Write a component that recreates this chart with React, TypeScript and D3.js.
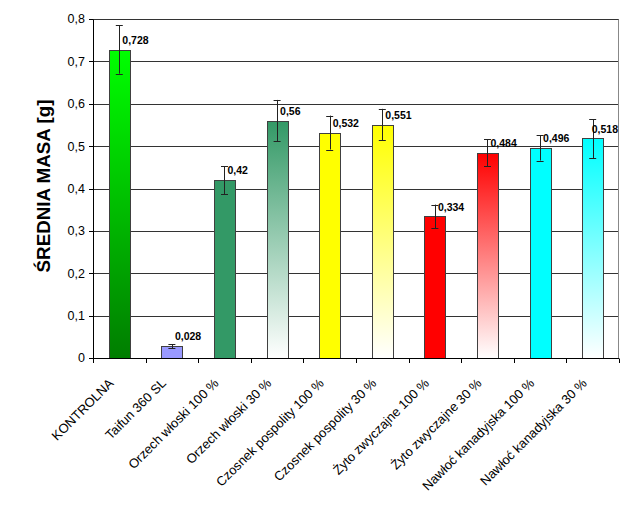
import * as d3 from "d3";

const categories = [
  "KONTROLNA",
  "Taifun 360 SL",
  "Orzech włoski 100 %",
  "Orzech włoski 30 %",
  "Czosnek pospolity 100 %",
  "Czosnek pospolity 30 %",
  "Żyto zwyczajne 100 %",
  "Żyto zwyczajne 30 %",
  "Nawłoć kanadyjska 100 %",
  "Nawłoć kanadyjska 30 %",
];
const means = [0.728, 0.028, 0.42, 0.56, 0.532, 0.551, 0.334, 0.484, 0.496, 0.518];
const errors = [0.057, 0.005, 0.033, 0.049, 0.04, 0.037, 0.028, 0.032, 0.03, 0.046];
const valueLabels = ["0,728", "0,028", "0,42", "0,56", "0,532", "0,551", "0,334", "0,484", "0,496", "0,518"];
const yTicks = [0, 0.1, 0.2, 0.3, 0.4, 0.5, 0.6, 0.7, 0.8];

// fill: [top colour, bottom colour]
const fills: [string, string][] = [
  ["#00ff00", "#007d00"],
  ["#9999ff", "#9999ff"],
  ["#339966", "#339966"],
  ["#339966", "#ffffff"],
  ["#ffff00", "#ffff00"],
  ["#ffff00", "#ffffff"],
  ["#ff0000", "#ff0000"],
  ["#ff0000", "#ffffff"],
  ["#00ffff", "#00ffff"],
  ["#00ffff", "#ffffff"],
];

const W = 620;
const H = 508;
const left = 93;
const right = 619;
const top = 19;
const bottom = 358;
const font = "Arial, 'Liberation Sans', sans-serif";

export default function App() {
  const x = d3.scaleBand<string>().domain(categories).range([left, right]).paddingInner(0.6).paddingOuter(0.3);
  const y = d3.scaleLinear().domain([0, 0.8]).range([bottom, top]);
  const fmt = (v: number) => d3.format(".1f")(v).replace(".", ",");
  const step = x.step();
  const crisp = (v: number) => Math.round(v) + 0.5;
  const labelSize = 10.5;

  return (
    <svg
      width={W}
      height={H}
      style={{ position: "absolute", left: 0, top: 0, background: "#fff" }}
      fontFamily={font}
    >
      <defs>
        {fills.map((f, i) => (
          <linearGradient key={i} id={`g${i}`} x1="0" y1="0" x2="0" y2="1">
            <stop offset="0" stopColor={f[0]} />
            <stop offset="1" stopColor={f[1]} />
          </linearGradient>
        ))}
      </defs>
      <rect x={0} y={0} width={W} height={H} fill="#fff" />

      {/* gridlines */}
      {yTicks.map((t) => (
        <line key={t} x1={left} x2={right} y1={crisp(y(t))} y2={crisp(y(t))} stroke="#333" strokeWidth={1} />
      ))}
      <line x1={crisp(right - 1)} x2={crisp(right - 1)} y1={crisp(top)} y2={crisp(bottom)} stroke="#888" />

      {/* y axis */}
      <line x1={crisp(left)} x2={crisp(left)} y1={crisp(top)} y2={crisp(bottom)} stroke="#000" />
      {yTicks.map((t) => (
        <g key={t}>
          <line x1={left - 4} x2={left} y1={crisp(y(t))} y2={crisp(y(t))} stroke="#000" />
          <text x={85} y={y(t)} dy="0.35em" textAnchor="end" fontSize={12.5} fill="#000">
            {t === 0 ? "0" : fmt(t)}
          </text>
        </g>
      ))}

      {/* x axis ticks */}
      {d3.range(categories.length + 1).map((i) => (
        <line
          key={i}
          x1={crisp(left + i * step)}
          x2={crisp(left + i * step)}
          y1={crisp(bottom)}
          y2={bottom + 5}
          stroke="#000"
        />
      ))}

      {/* bars */}
      {categories.map((c, i) => {
        const bx = x(c)!;
        const cx = bx + x.bandwidth() / 2;
        const yt = y(means[i]);
        const ehi = y(means[i] + errors[i]);
        const elo = y(means[i] - errors[i]);
        // keep the label inside the plot (approx. width of bold digits)
        const labelW = valueLabels[i].length * labelSize * 0.5;
        const lx = Math.min(cx + 3, right - 1 - labelW);
        return (
          <g key={c}>
            <rect
              x={Math.round(bx) + 0.5}
              y={Math.round(yt) + 0.5}
              width={Math.round(x.bandwidth())}
              height={Math.round(bottom) - Math.round(yt)}
              fill={`url(#g${i})`}
              stroke="#404040"
              strokeWidth={1}
            />
            <g stroke="#222" strokeWidth={1}>
              <line x1={crisp(cx)} x2={crisp(cx)} y1={ehi} y2={elo} />
              <line x1={cx - 3.5} x2={cx + 3.5} y1={crisp(ehi)} y2={crisp(ehi)} />
              <line x1={cx - 3.5} x2={cx + 3.5} y1={crisp(elo)} y2={crisp(elo)} />
            </g>
            <text x={lx} y={yt - 9.5} dy="0.35em" fontSize={labelSize} fontWeight="bold" fill="#000">
              {valueLabels[i]}
            </text>
          </g>
        );
      })}
      <line x1={left} x2={right} y1={crisp(bottom)} y2={crisp(bottom)} stroke="#000" />

      {/* x labels */}
      {categories.map((c) => {
        const cx = x(c)! + x.bandwidth() / 2;
        return (
          <text
            key={c}
            transform={`translate(${cx - 5},${384}) rotate(-45)`}
            textAnchor="end"
            fontSize={13}
            fill="#000"
          >
            {c}
          </text>
        );
      })}

      {/* y title */}
      <text
        transform={`translate(50,186) rotate(-90)`}
        textAnchor="middle"
        fontSize={18.8}
        fontWeight="bold"
        fill="#000"
      >
        ŚREDNIA MASA [g]
      </text>
    </svg>
  );
}
